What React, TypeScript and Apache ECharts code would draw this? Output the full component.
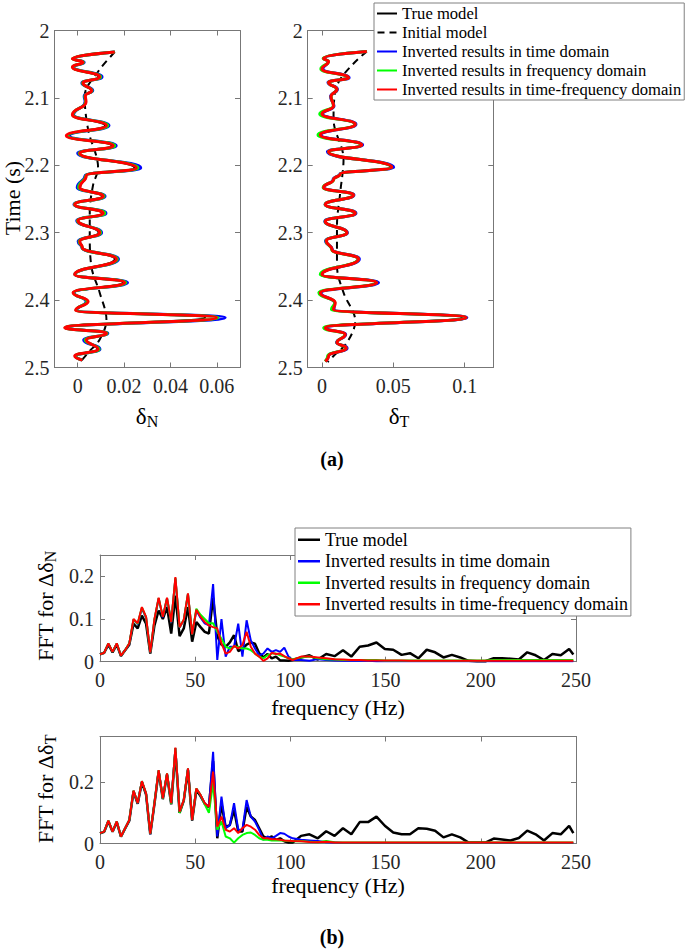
import React, { useEffect, useRef } from 'react';
import * as echarts from 'echarts';

const FONT = 'Liberation Serif';
const AX = '#777777';

const NAMES = [
  'True model',
  'Initial model',
  'Inverted results in time domain',
  'Inverted results in frequency domain',
  'Inverted results in time-frequency domain',
];

const timeN = [2.032, 2.042, 2.047, 2.054, 2.069, 2.078, 2.089, 2.097, 2.106, 2.125, 2.141, 2.156, 2.171, 2.182, 2.204, 2.215, 2.233, 2.246, 2.258, 2.271, 2.282, 2.300, 2.313, 2.322, 2.339, 2.362, 2.374, 2.389, 2.402, 2.415, 2.426, 2.441, 2.449, 2.459, 2.473, 2.483, 2.489];
const trueN = [0.016, -0.0022, 0.0022, -0.0022, 0.009, 0.0022, 0.0058, 0.0032, 0.0035, -0.0022, 0.0118, -0.0046, 0.0147, 0.001, 0.0245, 0.0037, 0.001, 0.0105, -0.0012, 0.0105, 0.0002, 0.009, 0.001, 0.002, 0.016, -0.0012, 0.0195, -0.0018, 0.0044, -0.0008, 0.055, -0.0052, 0.012, 0.0037, 0.0085, -0.0012, 0.002];
const timeDomN = [0.016, -0.002, 0.0028, -0.0018, 0.0105, 0.0018, 0.0065, 0.0028, 0.0032, -0.0018, 0.0135, -0.0035, 0.0166, 0.0, 0.0272, 0.0032, -0.0002, 0.0118, -0.0016, 0.0122, -0.0004, 0.0103, 0.0002, 0.0018, 0.0176, -0.0012, 0.0215, -0.0016, 0.0036, -0.0004, 0.0636, -0.0052, 0.013, 0.0026, 0.0096, -0.0008, 0.0018];
const freqDomN = [0.016, -0.0022, 0.0025, -0.0021, 0.0099, 0.0021, 0.0062, 0.0031, 0.0034, -0.0021, 0.013, -0.0043, 0.016, 0.0006, 0.026, 0.0035, 0.0004, 0.0114, -0.0014, 0.0117, -0.0001, 0.0099, 0.0006, 0.0019, 0.0171, -0.0012, 0.0208, -0.0018, 0.004, -0.0007, 0.0605, -0.0054, 0.0127, 0.0032, 0.0093, -0.001, 0.0019];
const tfDomN = [0.016, -0.0023, 0.0023, -0.0023, 0.0095, 0.0023, 0.006, 0.0033, 0.0036, -0.0023, 0.0124, -0.0049, 0.0153, 0.0009, 0.0253, 0.0037, 0.0009, 0.011, -0.0013, 0.011, 0.0001, 0.0095, 0.0009, 0.002, 0.0167, -0.0013, 0.0203, -0.002, 0.0045, -0.0009, 0.0599, -0.0056, 0.0124, 0.0037, 0.0088, -0.0013, 0.002];
const initTimeN = [2.032, 2.06, 2.0975, 2.147, 2.204, 2.23, 2.27, 2.3, 2.35, 2.389, 2.429, 2.4585, 2.478, 2.49];
const initN = [0.016, 0.009, 0.003, 0.0045, 0.0088, 0.0066, 0.0052, 0.0052, 0.0059, 0.0095, 0.0124, 0.0095, 0.0045, 0.0016];

const timeT = [2.031, 2.041, 2.046, 2.057, 2.070, 2.077, 2.087, 2.098, 2.112, 2.124, 2.139, 2.155, 2.170, 2.180, 2.203, 2.213, 2.221, 2.233, 2.244, 2.258, 2.271, 2.283, 2.300, 2.312, 2.325, 2.339, 2.362, 2.374, 2.389, 2.404, 2.414, 2.426, 2.441, 2.451, 2.463, 2.471, 2.483, 2.491];
const trueT = [0.0314, 0.0012, 0.0045, 0.0002, 0.0182, 0.0046, 0.0104, 0.0063, 0.0081, 0.0002, 0.0228, -0.001, 0.0272, 0.0047, 0.048, 0.0128, 0.0082, 0.0012, 0.0218, 0.0024, 0.0228, 0.0024, 0.0172, 0.0031, 0.007, 0.025, 0.0002, 0.0375, -0.001, 0.0092, 0.0081, 0.098, 0.0024, 0.016, 0.0105, 0.0168, 0.0046, 0.0024];
const timeDomT = [0.0314, 0.0013, 0.0044, 0.0006, 0.019, 0.0042, 0.0108, 0.006, 0.0084, 0.0004, 0.0238, -0.0008, 0.0285, 0.0038, 0.0502, 0.0125, 0.0078, 0.0013, 0.0224, 0.0022, 0.0238, 0.002, 0.0178, 0.0025, 0.0072, 0.0262, -0.0006, 0.0396, -0.0008, 0.0088, 0.0084, 0.1015, 0.003, 0.0166, 0.0102, 0.0176, 0.0044, 0.0025];
const freqDomT = [0.0314, 0.0008, 0.0046, -0.0008, 0.0184, 0.0046, 0.0104, 0.0064, 0.008, -0.0016, 0.0232, -0.0028, 0.0278, 0.0046, 0.0488, 0.0128, 0.0082, 0.0008, 0.022, 0.0022, 0.0232, 0.0022, 0.0174, 0.0028, 0.0068, 0.0255, -0.0012, 0.0382, -0.0022, 0.009, 0.0066, 0.1008, 0.0012, 0.016, 0.0105, 0.0168, 0.004, 0.0022];
const tfDomT = [0.0314, 0.0011, 0.0046, 0.0, 0.0186, 0.0046, 0.0105, 0.0063, 0.0081, 0.0, 0.0233, -0.0012, 0.0279, 0.0046, 0.0489, 0.0128, 0.0081, 0.0011, 0.0221, 0.0023, 0.0233, 0.0023, 0.0175, 0.003, 0.007, 0.0256, 0.0, 0.0384, -0.0012, 0.0093, 0.0081, 0.101, 0.0023, 0.0163, 0.0105, 0.017, 0.0046, 0.0023];
const initTimeT = [2.031, 2.082, 2.1315, 2.191, 2.24, 2.29, 2.349, 2.389, 2.431, 2.463, 2.483, 2.492];
const initT = [0.0314, 0.0105, 0.0081, 0.0151, 0.0128, 0.0105, 0.0105, 0.0151, 0.0233, 0.0175, 0.0081, 0.004];

const freqHz = [0, 2.2, 4.4, 6.6, 8.8, 11, 13.2, 15.4, 17.6, 19.8, 22, 24.2, 26.4, 28.6, 30.8, 33, 35.2, 37.4, 39.6, 41.8, 44, 46.2, 48.4, 50.6, 52.8, 55, 57.2, 59.4, 61.6, 63.8, 66, 68.2, 70.4, 72.6, 74.8, 77, 79.2, 81.4, 83.6, 85.8, 88, 90.2, 92.4, 94.6, 96.8, 99, 101.2,
  105.6, 110, 114.4, 118.8, 123.2, 127.6, 132, 136.4, 140.8, 145.2, 149.6, 154, 158.4, 162.8, 167.2, 171.6, 176, 180.4, 184.8, 189.2, 193.6, 198, 202.4, 206.8, 211.2, 215.6, 220, 224.4, 228.8, 233.2, 237.6, 242, 246.4, 248.6];

const fftTrueN = [0.017, 0.021, 0.04, 0.022, 0.04, 0.013, 0.027, 0.04, 0.089, 0.078, 0.108, 0.089, 0.019, 0.085, 0.12, 0.1, 0.128, 0.066, 0.155, 0.06, 0.078, 0.128, 0.047, 0.093, 0.081, 0.07, 0.066, 0.15, 0.06, 0.04, 0.035, 0.045, 0.062, 0.025, 0.03, 0.04, 0.045, 0.042, 0.02, 0.01, 0.018, 0.008, 0.012, 0.003, 0.003, 0.002, 0.004,
  0.01, 0.015, 0.005, 0.018, 0.013, 0.027, 0.012, 0.035, 0.038, 0.045, 0.03, 0.028, 0.016, 0.02, 0.008, 0.028, 0.022, 0.01, 0.016, 0.01, 0.002, 0.001, 0.001, 0.008, 0.008, 0.007, 0.005, 0.022, 0.015, 0.004, 0.018, 0.015, 0.03, 0.017];
const fftTimeN = [0.017, 0.021, 0.042, 0.023, 0.042, 0.014, 0.027, 0.042, 0.098, 0.088, 0.125, 0.103, 0.021, 0.098, 0.148, 0.104, 0.148, 0.092, 0.195, 0.08, 0.097, 0.158, 0.064, 0.12, 0.103, 0.09, 0.085, 0.182, 0.004, 0.1, 0.012, 0.035, 0.035, 0.089, 0.012, 0.097, 0.05, 0.031, 0.015, 0.019, 0.031, 0.023, 0.027, 0.023, 0.033, 0.012, 0.004,
  0.004, 0.002, 0.006, 0.004, 0.003, 0.002, 0.002, 0.002, 0.002, 0.001, 0.001, 0.001, 0.001, 0.001, 0.001, 0.001, 0.001, 0.001, 0.001, 0.001, 0.001, 0.001, 0.001, 0.001, 0.001, 0.001, 0.001, 0.001, 0.001, 0.001, 0.001, 0.001, 0.001, 0.001];
const fftFreqN = [0.017, 0.021, 0.043, 0.023, 0.043, 0.014, 0.027, 0.043, 0.099, 0.089, 0.127, 0.104, 0.022, 0.099, 0.149, 0.105, 0.149, 0.093, 0.196, 0.081, 0.098, 0.159, 0.064, 0.124, 0.11, 0.1, 0.09, 0.09, 0.07, 0.054, 0.035, 0.031, 0.035, 0.035, 0.031, 0.031, 0.027, 0.019, 0.012, 0.008, 0.015, 0.019, 0.019, 0.015, 0.012, 0.008, 0.006,
  0.01, 0.012, 0.008, 0.006, 0.005, 0.004, 0.004, 0.004, 0.004, 0.004, 0.003, 0.003, 0.003, 0.003, 0.003, 0.003, 0.003, 0.003, 0.003, 0.003, 0.003, 0.003, 0.003, 0.004, 0.004, 0.004, 0.004, 0.004, 0.004, 0.004, 0.004, 0.004, 0.004, 0.004];
const fftTfN = [0.017, 0.021, 0.043, 0.023, 0.043, 0.014, 0.027, 0.043, 0.1, 0.09, 0.128, 0.105, 0.022, 0.1, 0.15, 0.105, 0.15, 0.093, 0.198, 0.081, 0.098, 0.16, 0.064, 0.122, 0.105, 0.093, 0.085, 0.081, 0.078, 0.043, 0.019, 0.023, 0.037, 0.031, 0.039, 0.07, 0.035, 0.019, 0.012, 0.002, 0.008, 0.021, 0.018, 0.019, 0.013, 0.008, 0.004,
  0.012, 0.012, 0.01, 0.008, 0.006, 0.005, 0.004, 0.004, 0.003, 0.003, 0.003, 0.003, 0.003, 0.002, 0.002, 0.002, 0.002, 0.002, 0.002, 0.002, 0.002, 0.002, 0.002, 0.002, 0.002, 0.002, 0.002, 0.002, 0.002, 0.002, 0.002, 0.002, 0.002, 0.002];

const fftTrueT = [0.033, 0.038, 0.073, 0.038, 0.07, 0.022, 0.049, 0.075, 0.17, 0.13, 0.2, 0.16, 0.03, 0.13, 0.235, 0.145, 0.225, 0.128, 0.3, 0.1, 0.14, 0.24, 0.075, 0.175, 0.155, 0.13, 0.118, 0.27, 0.017, 0.13, 0.053, 0.061, 0.11, 0.039, 0.039, 0.12, 0.088, 0.077, 0.05, 0.023, 0.017, 0.023, 0.012, 0.017, 0.007, 0.003, 0.003,
  0.025, 0.03, 0.017, 0.04, 0.025, 0.05, 0.03, 0.07, 0.07, 0.088, 0.058, 0.036, 0.03, 0.03, 0.05, 0.048, 0.042, 0.02, 0.03, 0.02, 0.003, 0.003, 0.003, 0.016, 0.013, 0.01, 0.018, 0.042, 0.03, 0.01, 0.034, 0.03, 0.058, 0.034];
const fftTimeT = [0.034, 0.039, 0.074, 0.039, 0.071, 0.023, 0.05, 0.076, 0.172, 0.131, 0.203, 0.163, 0.031, 0.131, 0.239, 0.147, 0.228, 0.131, 0.312, 0.103, 0.141, 0.245, 0.077, 0.179, 0.158, 0.13, 0.12, 0.3, 0.023, 0.153, 0.05, 0.06, 0.132, 0.045, 0.045, 0.142, 0.088, 0.072, 0.045, 0.012, 0.023, 0.017, 0.025, 0.034, 0.032, 0.023, 0.017,
  0.012, 0.01, 0.008, 0.004, 0.003, 0.002, 0.002, 0.002, 0.002, 0.002, 0.002, 0.002, 0.002, 0.002, 0.002, 0.002, 0.002, 0.002, 0.002, 0.002, 0.002, 0.002, 0.002, 0.002, 0.002, 0.002, 0.002, 0.002, 0.002, 0.002, 0.002, 0.002, 0.002, 0.002];
const fftFreqT = [0.034, 0.039, 0.075, 0.039, 0.072, 0.023, 0.05, 0.077, 0.173, 0.132, 0.204, 0.164, 0.032, 0.132, 0.24, 0.147, 0.229, 0.13, 0.312, 0.1, 0.142, 0.245, 0.077, 0.18, 0.159, 0.128, 0.1, 0.197, 0.045, 0.072, 0.023, 0.017, 0.003, 0.017, 0.028, 0.034, 0.036, 0.028, 0.017, 0.012, 0.012, 0.01, 0.01, 0.01, 0.009, 0.008, 0.007,
  0.008, 0.006, 0.004, 0.008, 0.004, 0.003, 0.003, 0.003, 0.003, 0.003, 0.003, 0.003, 0.003, 0.003, 0.003, 0.003, 0.003, 0.003, 0.003, 0.003, 0.003, 0.003, 0.003, 0.003, 0.003, 0.003, 0.003, 0.003, 0.003, 0.003, 0.003, 0.003, 0.003, 0.003];
const fftTfT = [0.034, 0.039, 0.075, 0.039, 0.072, 0.023, 0.05, 0.077, 0.173, 0.132, 0.204, 0.164, 0.032, 0.132, 0.24, 0.148, 0.229, 0.132, 0.314, 0.104, 0.142, 0.246, 0.077, 0.18, 0.159, 0.132, 0.12, 0.235, 0.055, 0.088, 0.045, 0.039, 0.05, 0.034, 0.05, 0.061, 0.055, 0.045, 0.028, 0.017, 0.017, 0.014, 0.014, 0.012, 0.01, 0.009, 0.008,
  0.007, 0.005, 0.004, 0.006, 0.003, 0.003, 0.003, 0.003, 0.003, 0.003, 0.003, 0.003, 0.003, 0.003, 0.003, 0.003, 0.003, 0.003, 0.003, 0.003, 0.003, 0.003, 0.003, 0.003, 0.003, 0.003, 0.003, 0.003, 0.003, 0.003, 0.003, 0.003, 0.003, 0.003];

const timeTicks = [2, 2.1, 2.2, 2.3, 2.4, 2.5];
const deltaNTicks = [0, 0.02, 0.04, 0.06];
const deltaTTicks = [0, 0.05, 0.1];
const freqTicks = [0, 50, 100, 150, 200, 250];
const fftNTicks = [0, 0.1, 0.2];
const fftTTicks = [0, 0.2];

const fmt = (v: number) => String(Math.round(v * 1000) / 1000);

function mkAxis(gridIndex: number, position: string, min: number, max: number, ticks: number[], showLabel: boolean, margin: number, inverse = false) {
  return {
    type: 'value',
    gridIndex,
    position,
    min,
    max,
    inverse,
    splitLine: { show: false },
    axisLine: { show: true, onZero: false, lineStyle: { color: AX, width: 1 } },
    axisTick: { show: true, inside: true, length: 5, customValues: ticks, lineStyle: { color: AX, width: 1 } },
    axisLabel: {
      show: showLabel,
      customValues: ticks,
      margin,
      formatter: fmt,
      fontFamily: FONT,
      fontSize: 20,
      color: '#262626',
      hideOverlap: false,
    },
  };
}

const COLORS = ['#000000', '#000000', '#0000ff', '#00ff00', '#ff0000'];

function traceSeries(nameIdx: number, times: number[], vals: number[], axisIdx: number, width: number, dashed = false, monotone = true) {
  return {
    type: 'line',
    name: NAMES[nameIdx],
    xAxisIndex: axisIdx,
    yAxisIndex: axisIdx,
    data: times.map((t, i) => [vals[i], t]),
    showSymbol: false,
    symbol: 'none',
    smooth: monotone ? 0.5 : 0.35,
    smoothMonotone: monotone ? 'y' : undefined,
    lineStyle: { color: COLORS[nameIdx], width, type: dashed ? [7, 5] : 'solid' },
    itemStyle: { color: COLORS[nameIdx] },
    emphasis: { disabled: true },
  };
}

function fftSeries(nameIdx: number, vals: number[], axisIdx: number, width: number) {
  return {
    type: 'line',
    name: NAMES[nameIdx],
    xAxisIndex: axisIdx,
    yAxisIndex: axisIdx,
    data: freqHz.map((f, i) => [f, vals[i]]),
    showSymbol: false,
    symbol: 'none',
    lineStyle: { color: COLORS[nameIdx], width },
    itemStyle: { color: COLORS[nameIdx] },
    emphasis: { disabled: true },
  };
}

function subText(x: number, y: number, main: string, sub: string, rotate: boolean, mainSize: number, subSize: number) {
  return {
    type: 'text',
    x,
    y,
    rotation: rotate ? Math.PI / 2 : 0,
    style: {
      text: `{m|${main}}{s|${sub}}`,
      align: 'center',
      verticalAlign: 'middle',
      fontFamily: FONT,
      rich: {
        m: { fontFamily: FONT, fontSize: mainSize, lineHeight: mainSize + 4, fill: '#000' },
        s: { fontFamily: FONT, fontSize: subSize, lineHeight: 6, verticalAlign: 'bottom', fill: '#000' },
      },
    },
  };
}

function plainText(x: number, y: number, text: string, size: number, bold = false, rotate = false) {
  return {
    type: 'text',
    x,
    y,
    rotation: rotate ? Math.PI / 2 : 0,
    style: {
      text,
      fontFamily: FONT,
      fontSize: size,
      fontWeight: bold ? 'bold' : 'normal',
      fill: '#000',
      align: 'center',
      verticalAlign: 'middle',
    },
  };
}

const DASH_ICON = 'path://M0,0h7v2h-7zM12,0h7v2h-7z';

function buildOption() {
  const grid = [
    { left: 54.5, top: 30.5, width: 185.5, height: 337 },
    { left: 307.7, top: 30.5, width: 185.6, height: 337 },
    { left: 100, top: 555, width: 476, height: 106.7 },
    { left: 100, top: 736.5, width: 476, height: 107 },
  ];
  const xAxis = [
    mkAxis(0, 'bottom', -0.01, 0.07, deltaNTicks, true, 8),
    mkAxis(0, 'top', -0.01, 0.07, deltaNTicks, false, 8),
    mkAxis(1, 'bottom', -0.01, 0.12, deltaTTicks, true, 8),
    mkAxis(1, 'top', -0.01, 0.12, deltaTTicks, false, 8),
    mkAxis(2, 'bottom', 0, 250, freqTicks, true, 8),
    mkAxis(2, 'top', 0, 250, freqTicks, false, 8),
    mkAxis(3, 'bottom', 0, 250, freqTicks, true, 8),
    mkAxis(3, 'top', 0, 250, freqTicks, false, 8),
  ];
  const yAxis = [
    mkAxis(0, 'left', 2, 2.5, timeTicks, true, 5, true),
    mkAxis(0, 'right', 2, 2.5, timeTicks, false, 5, true),
    mkAxis(1, 'left', 2, 2.5, timeTicks, true, 5, true),
    mkAxis(1, 'right', 2, 2.5, timeTicks, false, 5, true),
    mkAxis(2, 'left', 0, 0.25, fftNTicks, true, 6),
    mkAxis(2, 'right', 0, 0.25, fftNTicks, false, 6),
    mkAxis(3, 'left', 0, 0.35, fftTTicks, true, 6),
    mkAxis(3, 'right', 0, 0.35, fftTTicks, false, 6),
  ];
  const series = [
    traceSeries(0, timeN, trueN, 0, 2),
    traceSeries(1, initTimeN, initN, 0, 2, true, false),
    traceSeries(2, timeN, timeDomN, 0, 3),
    traceSeries(3, timeN, freqDomN, 0, 3),
    traceSeries(4, timeN, tfDomN, 0, 3),
    traceSeries(0, timeT, trueT, 2, 2),
    traceSeries(1, initTimeT, initT, 2, 2, true, false),
    traceSeries(2, timeT, timeDomT, 2, 3),
    traceSeries(3, timeT, freqDomT, 2, 3),
    traceSeries(4, timeT, tfDomT, 2, 3),
    fftSeries(0, fftTrueN, 4, 2.5),
    fftSeries(2, fftTimeN, 4, 2),
    fftSeries(3, fftFreqN, 4, 2),
    fftSeries(4, fftTfN, 4, 2),
    fftSeries(0, fftTrueT, 6, 2.5),
    fftSeries(2, fftTimeT, 6, 2),
    fftSeries(3, fftFreqT, 6, 2),
    fftSeries(4, fftTfT, 6, 2),
  ];
  const legendBase = {
    orient: 'vertical',
    itemGap: 0,
    selectedMode: false,
    backgroundColor: '#ffffff',
    borderColor: '#808080',
    borderWidth: 1,
    borderRadius: 0,
    z: 20,
  };
  const legend = [
    {
      ...legendBase,
      data: [
        { name: NAMES[0], icon: 'rect' },
        { name: NAMES[1], icon: DASH_ICON },
        { name: NAMES[2], icon: 'rect' },
        { name: NAMES[3], icon: 'rect' },
        { name: NAMES[4], icon: 'rect' },
      ],
      left: 374,
      top: 3,
      padding: [1, 3, 1, 3],
      itemWidth: 20,
      itemHeight: 2,
      textStyle: { fontFamily: FONT, fontSize: 16.6, lineHeight: 19, color: '#000' },
    },
    {
      ...legendBase,
      data: [
        { name: NAMES[0], icon: 'rect' },
        { name: NAMES[2], icon: 'rect' },
        { name: NAMES[3], icon: 'rect' },
        { name: NAMES[4], icon: 'rect' },
      ],
      left: 295,
      top: 528,
      padding: [1, 3, 1, 3],
      itemWidth: 22,
      itemHeight: 2.5,
      textStyle: { fontFamily: FONT, fontSize: 18, lineHeight: 21.5, color: '#000' },
    },
  ];
  const graphic = [
    plainText(12, 198, 'Time (s)', 22, false, true),
    subText(147, 416, 'δ', 'N', false, 23, 16),
    subText(399, 416, 'δ', 'T', false, 23, 16),
    plainText(332, 459, '(a)', 20, true),
    subText(45, 606, 'FFT for Δδ', 'N', true, 22, 16),
    plainText(338, 707, 'frequency (Hz)', 22),
    subText(45, 789, 'FFT for Δδ', 'T', true, 22, 16),
    plainText(338, 885, 'frequency (Hz)', 22),
    plainText(332, 937, '(b)', 20, true),
  ];
  return {
    animation: false,
    backgroundColor: '#ffffff',
    textStyle: { fontFamily: FONT },
    grid,
    xAxis,
    yAxis,
    series,
    legend,
    graphic,
  };
}

export default function App() {
  const ref = useRef<HTMLDivElement>(null);
  useEffect(() => {
    if (!ref.current) return;
    const chart = echarts.init(ref.current, null, { renderer: 'svg' });
    chart.setOption(buildOption() as any);
    return () => chart.dispose();
  }, []);
  return (
    <div
      ref={ref}
      style={{ position: 'fixed', left: 0, top: 0, width: 685, height: 950, background: '#fff' }}
    />
  );
}
